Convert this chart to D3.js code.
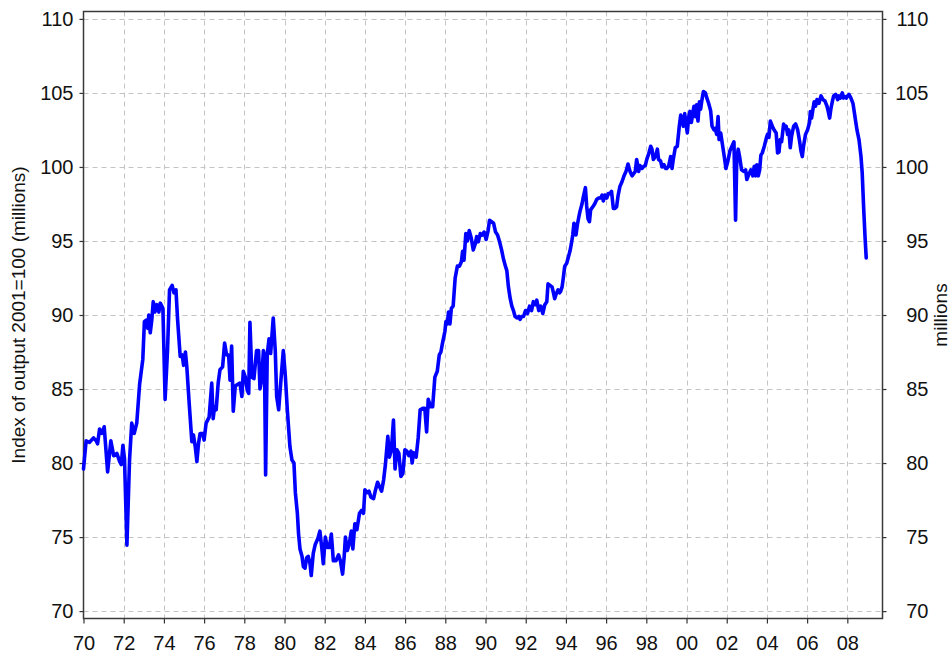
<!DOCTYPE html>
<html>
<head>
<meta charset="utf-8">
<script src="https://cdn.jsdelivr.net/npm/d3@7"></script>
<style>
  body { margin: 0; background: #fff; }
  svg text { font-family: "Liberation Sans", Arial, sans-serif; fill: #111; }
</style>
</head>
<body>
<svg id="chart" width="952" height="657"></svg>
<script>
// time in decimal years
var dates = [
  1970.00,1970.13,1970.30,1970.50,1970.63,1970.70,1970.80,1970.91,1971.03,1971.20,
  1971.36,1971.50,1971.66,1971.80,1971.88,1971.96,1972.04,1972.16,1972.29,1972.40,
  1972.52,1972.65,1972.79,1972.95,1973.03,1973.12,1973.20,1973.25,1973.32,1973.40,
  1973.47,1973.55,1973.65,1973.75,1973.82,1973.95,1974.06,1974.18,1974.28,1974.41,
  1974.50,1974.60,1974.68,1974.81,1974.91,1974.98,1975.07,1975.14,1975.26,1975.39,
  1975.47,1975.56,1975.64,1975.72,1975.80,1975.93,1976.00,1976.10,1976.25,1976.38,
  1976.45,1976.52,1976.60,1976.70,1976.79,1976.92,1977.02,1977.12,1977.22,1977.29,
  1977.37,1977.45,1977.55,1977.66,1977.78,1977.88,1977.95,1978.05,1978.15,1978.22,
  1978.28,1978.38,1978.48,1978.61,1978.71,1978.78,1978.86,1978.95,1979.00,1979.06,
  1979.14,1979.23,1979.31,1979.44,1979.54,1979.61,1979.71,1979.81,1979.94,1980.04,
  1980.14,1980.27,1980.37,1980.47,1980.54,1980.64,1980.70,1980.77,1980.87,1980.94,
  1981.02,1981.10,1981.18,1981.27,1981.33,1981.43,1981.53,1981.66,1981.76,1981.86,
  1981.93,1982.03,1982.13,1982.23,1982.33,1982.43,1982.56,1982.69,1982.78,1982.89,
  1982.97,1983.03,1983.13,1983.23,1983.32,1983.40,1983.50,1983.60,1983.73,1983.83,
  1983.93,1984.00,1984.10,1984.20,1984.30,1984.43,1984.53,1984.63,1984.73,1984.83,
  1984.93,1985.02,1985.14,1985.22,1985.32,1985.42,1985.50,1985.59,1985.69,1985.79,
  1985.89,1985.99,1986.09,1986.19,1986.29,1986.35,1986.42,1986.55,1986.65,1986.75,
  1986.88,1986.98,1987.07,1987.15,1987.27,1987.37,1987.48,1987.60,1987.70,1987.78,
  1987.86,1987.98,1988.03,1988.10,1988.16,1988.23,1988.30,1988.39,1988.49,1988.60,
  1988.70,1988.80,1988.86,1988.93,1989.02,1989.10,1989.19,1989.29,1989.39,1989.49,
  1989.56,1989.64,1989.74,1989.83,1989.93,1990.03,1990.13,1990.20,1990.30,1990.40,
  1990.50,1990.60,1990.70,1990.80,1990.89,1990.99,1991.06,1991.14,1991.23,1991.31,
  1991.39,1991.47,1991.56,1991.66,1991.72,1991.80,1991.89,1991.99,1992.09,1992.19,
  1992.29,1992.38,1992.48,1992.55,1992.65,1992.75,1992.85,1992.95,1993.05,1993.11,
  1993.21,1993.31,1993.38,1993.44,1993.51,1993.61,1993.68,1993.74,1993.81,1993.87,
  1993.94,1994.04,1994.14,1994.20,1994.27,1994.34,1994.40,1994.47,1994.50,1994.57,
  1994.64,1994.70,1994.80,1994.87,1994.97,1995.03,1995.10,1995.17,1995.23,1995.33,
  1995.43,1995.53,1995.63,1995.73,1995.80,1995.86,1995.94,1996.03,1996.11,1996.19,
  1996.27,1996.36,1996.44,1996.52,1996.60,1996.69,1996.79,1996.89,1996.99,1997.09,
  1997.19,1997.29,1997.35,1997.45,1997.52,1997.62,1997.68,1997.78,1997.88,1997.95,
  1998.02,1998.12,1998.22,1998.28,1998.35,1998.45,1998.55,1998.61,1998.71,1998.78,
  1998.88,1998.95,1999.01,1999.11,1999.21,1999.28,1999.34,1999.44,1999.54,1999.64,
  1999.71,1999.77,1999.84,1999.91,1999.97,2000.04,2000.11,2000.17,2000.24,2000.31,
  2000.37,2000.44,2000.50,2000.57,2000.64,2000.70,2000.77,2000.84,2000.94,2001.00,
  2001.10,2001.20,2001.27,2001.37,2001.43,2001.50,2001.57,2001.62,2001.70,2001.80,
  2001.90,2001.96,2002.06,2002.16,2002.26,2002.36,2002.44,2002.50,2002.57,2002.64,
  2002.74,2002.84,2002.94,2003.00,2003.10,2003.20,2003.30,2003.37,2003.44,2003.50,
  2003.57,2003.64,2003.70,2003.77,2003.87,2003.97,2004.03,2004.10,2004.17,2004.27,
  2004.36,2004.46,2004.53,2004.60,2004.66,2004.73,2004.83,2004.90,2004.96,2005.03,
  2005.09,2005.16,2005.23,2005.33,2005.43,2005.53,2005.63,2005.69,2005.76,2005.82,
  2005.92,2006.02,2006.12,2006.16,2006.22,2006.29,2006.35,2006.42,2006.49,2006.59,
  2006.69,2006.79,2006.89,2006.99,2007.05,2007.12,2007.18,2007.25,2007.32,2007.42,
  2007.52,2007.58,2007.65,2007.75,2007.81,2007.88,2007.95,2008.01,2008.08,2008.18,
  2008.28,2008.38,2008.48,2008.58,2008.68,2008.74,2008.81,2008.88,2008.94
];

var values = [
  79.6,81.5,81.4,81.7,81.5,81.3,82.3,82.0,82.45,79.4,
  81.5,80.5,80.65,80.1,79.9,81.2,80.3,74.45,80.2,82.7,
  82.0,82.7,85.3,87.0,89.55,89.65,89.1,90.0,88.8,89.7,
  90.9,90.2,90.7,90.2,90.8,90.45,84.3,87.6,91.7,92.0,
  91.5,91.7,89.7,87.2,87.3,86.6,87.5,86.5,84.0,81.45,
  81.9,81.1,80.1,81.3,82.0,82.0,81.55,82.7,83.1,85.4,
  83.0,83.8,83.6,85.4,86.3,86.5,88.1,87.3,87.3,85.6,
  87.9,83.5,85.2,85.3,85.4,84.5,86.2,85.8,84.9,84.7,
  89.5,85.8,85.7,87.6,87.6,85.0,85.6,87.6,87.3,79.2,
  87.3,88.4,87.4,89.8,87.6,84.5,83.6,85.4,87.6,85.9,
  83.6,81.1,80.2,80.0,78.0,76.6,75.2,74.2,73.7,73.0,
  72.9,73.6,73.7,73.2,72.4,73.9,74.5,74.9,75.4,74.2,
  73.2,75.0,74.3,74.3,75.2,73.4,73.4,73.8,73.4,72.5,
  73.7,75.0,74.1,74.6,75.4,74.2,75.9,75.5,76.6,76.8,
  76.6,78.2,78.0,78.1,77.7,77.6,78.2,78.7,78.4,78.1,
  78.85,79.9,81.8,80.4,80.9,82.9,79.6,80.9,80.65,79.1,
  79.3,80.9,80.8,80.5,80.8,80.0,80.7,80.4,81.7,83.6,
  83.7,83.7,82.1,84.3,83.8,83.8,85.8,86.2,87.3,87.5,
  88.1,88.9,89.55,89.4,90.2,89.4,90.45,90.6,92.5,93.3,
  93.3,93.6,94.3,93.7,95.5,95.0,95.7,95.2,94.4,94.8,
  95.3,94.95,95.5,95.4,95.6,95.1,95.7,96.4,96.3,96.2,
  95.6,95.4,94.95,94.4,93.8,93.3,93.0,91.9,91.1,90.6,
  90.3,89.9,89.8,89.9,89.7,89.9,89.9,90.3,90.1,90.6,
  90.3,90.9,90.7,91.0,90.3,90.6,90.1,90.7,90.9,92.1,
  92.0,91.9,91.5,91.1,91.4,91.7,91.5,91.6,91.9,92.5,
  93.3,93.5,94.0,94.3,94.8,95.4,96.2,96.0,95.4,96.1,
  96.6,97.0,97.5,98.0,98.6,97.4,96.5,96.3,97.1,97.3,
  97.5,97.8,97.9,97.9,98.1,97.7,98.1,97.9,98.2,98.2,
  98.35,97.2,97.2,97.3,98.1,98.7,99.0,99.4,99.7,100.2,
  99.7,99.4,99.5,99.7,100.5,99.7,100.1,99.9,100.05,100.1,
  100.5,100.9,101.4,101.2,100.5,100.7,101.2,100.5,100.4,100.0,
  100.15,99.9,99.9,100.05,100.7,99.9,100.5,101.3,101.4,102.75,
  103.5,103.3,102.75,103.6,102.9,102.3,103.4,103.75,103.0,103.6,
  104.1,103.4,104.2,103.1,104.4,103.9,104.55,105.1,105.0,104.7,
  104.3,103.8,102.75,102.5,102.6,102.2,103.4,101.85,102.3,101.4,
  100.5,99.9,100.4,101.1,101.4,101.7,96.4,100.5,101.2,100.7,
  99.8,99.7,99.8,99.15,99.5,99.8,99.4,100.05,99.4,100.15,
  99.4,99.8,100.8,100.95,101.4,101.95,102.2,102.0,103.1,102.75,
  102.5,102.3,100.95,101.0,101.85,101.7,102.9,102.6,102.75,102.2,
  102.5,101.3,102.1,102.75,102.9,102.5,101.7,101.1,100.7,101.4,
  102.2,102.5,103.0,103.75,103.3,103.9,104.4,104.1,104.55,104.3,
  104.8,104.55,104.45,104.1,103.75,103.3,103.9,104.4,104.8,104.9,
  104.55,104.8,104.65,105.0,104.65,104.75,104.65,104.8,104.9,104.65,
  104.3,103.4,102.5,101.85,100.7,99.6,97.3,95.3,93.85
];

var xTicks = [1970,1972,1974,1976,1978,1980,1982,1984,1986,1988,1990,
              1992,1994,1996,1998,2000,2002,2004,2006,2008];
var yTicks = [70,75,80,85,90,95,100,105,110];

var leftTitle = "Index of output 2001=100 (millions)";
var rightTitle = "millions";

function drawChart() {
    var svg = d3.select("#chart");
    var pL = 83.5, pR = 882.5, pT = 11.5, pB = 618.5;

    var x = d3.scaleLinear().domain([1970, 2009.75]).range([pL, pR]);
    var y = d3.scaleLinear().domain([69.5, 110.5]).range([pB, pT]);

    var data = dates.map(function(d, i) { return { t: d, v: values[i] }; });

    // grid
    var grid = svg.append("g");
    grid.selectAll(".vg")
        .data(xTicks.slice(1))
        .enter().append("line")
        .attr("x1", function(d) { return Math.round(x(d)) + 0.5; })
        .attr("x2", function(d) { return Math.round(x(d)) + 0.5; })
        .attr("y1", pT).attr("y2", pB)
        .attr("stroke", "#c4c4c4").attr("stroke-width", 1)
        .attr("stroke-dasharray", "5,4");
    grid.selectAll(".hg")
        .data(yTicks)
        .enter().append("line")
        .attr("y1", function(d) { return Math.round(y(d)) + 0.5; })
        .attr("y2", function(d) { return Math.round(y(d)) + 0.5; })
        .attr("x1", pL).attr("x2", pR)
        .attr("stroke", "#c4c4c4").attr("stroke-width", 1)
        .attr("stroke-dasharray", "5,4");

    // axes
    var fmt = function(d) { return d3.format("02d")(d % 100); };

    svg.append("g")
        .attr("transform", "translate(0," + pB + ")")
        .call(d3.axisBottom(x).tickValues(xTicks).tickFormat(fmt).tickSize(5).tickPadding(12).tickSizeOuter(0));

    svg.append("g")
        .attr("transform", "translate(" + pL + ",0)")
        .call(d3.axisLeft(y).tickValues(yTicks).tickSize(4).tickPadding(6).tickSizeOuter(0));

    var yAxisR = svg.append("g")
        .attr("transform", "translate(" + pR + ",0)")
        .call(d3.axisRight(y).tickValues(yTicks).tickSize(4).tickPadding(42).tickSizeOuter(0));
    yAxisR.selectAll("text").attr("text-anchor", "end");

    svg.selectAll(".domain").remove();
    svg.selectAll(".tick line").attr("stroke", "#333").attr("stroke-width", 1.2);
    svg.selectAll(".tick text")
       .style("font-size", "20px")
       .style("font-family", "'Liberation Sans', Arial, sans-serif")
       .attr("fill", "#111");

    // frame
    svg.append("rect")
       .attr("x", pL).attr("y", pT)
       .attr("width", pR - pL).attr("height", pB - pT)
       .attr("fill", "none").attr("stroke", "#3a3a3a").attr("stroke-width", 1.5);

    // the series
    var line = d3.line()
        .x(function(d) { return x(d.t); })
        .y(function(d) { return y(d.v); });

    svg.append("path")
       .datum(data)
       .attr("d", line)
       .attr("fill", "none")
       .attr("stroke", "#0000ff")
       .attr("stroke-width", 3.6)
       .attr("stroke-linejoin", "round")
       .attr("stroke-linecap", "round");

    // titles
    svg.append("text")
       .attr("transform", "translate(25," + ((pT + pB) / 2) + ") rotate(-90)")
       .attr("text-anchor", "middle")
       .style("font-size", "19px")
       .text(leftTitle);

    svg.append("text")
       .attr("transform", "translate(947," + ((pT + pB) / 2) + ") rotate(-90)")
       .attr("text-anchor", "middle")
       .style("font-size", "19px")
       .text(rightTitle);
}

drawChart();
</script>
</body>
</html>
